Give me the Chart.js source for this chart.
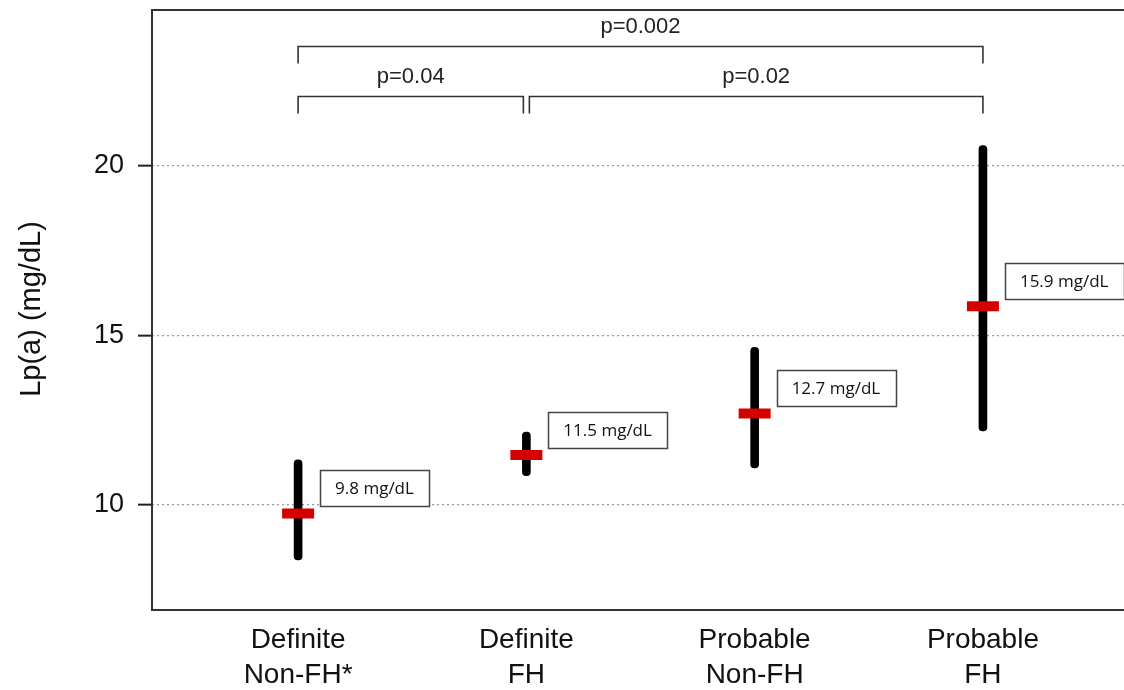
<!DOCTYPE html>
<html><head><meta charset="utf-8">
<script src="https://cdn.jsdelivr.net/npm/chart.js@4"></script>
<style>html,body{margin:0;padding:0;background:#fff;}#wrap{width:1124px;height:690px;}</style>
</head><body><div id="wrap"><canvas id="c" width="1124" height="690"></canvas></div>
<script>
// ---- data ----
const categories = [["Definite","Non-FH*"],["Definite","FH"],["Probable","Non-FH"],["Probable","FH"]];
const categoryPositions = [1, 2, 3, 4];
const meanValues = [9.75, 11.47, 12.70, 15.86];
const lowerValues = [8.38, 10.86, 11.09, 12.18];
const upperValues = [11.33, 12.15, 14.65, 20.60];
const meanLabels = ["9.8 mg/dL", "11.5 mg/dL", "12.7 mg/dL", "15.9 mg/dL"];
const yTickValues = [10, 15, 20];
const yTitle = "Lp(a) (mg/dL)";
const bracketFrom = [1, 1, 2];
const bracketTo = [4, 2, 4];
const bracketLevel = [23.55, 22.05, 22.05];
const bracketText = ["p=0.002", "p=0.04", "p=0.02"];

const AXIS_FONT = "'Liberation Sans', Arial, sans-serif";

const overlay = {
  id: 'overlay',
  afterDraw(chart) {
    const ctx = chart.ctx, a = chart.chartArea, xs = chart.scales.x, ys = chart.scales.y;
    ctx.save();
    // frame (left, top, bottom)
    ctx.strokeStyle = '#333'; ctx.lineWidth = 2;
    ctx.beginPath();
    ctx.moveTo(a.right + 2, a.top); ctx.lineTo(a.left, a.top); ctx.lineTo(a.left, a.bottom); ctx.lineTo(a.right + 2, a.bottom);
    ctx.stroke();
    // y title
    ctx.fillStyle = '#111';
    ctx.font = "29px " + AXIS_FONT;
    ctx.textAlign = 'center'; ctx.textBaseline = 'middle';
    ctx.translate(32, 309); ctx.rotate(-Math.PI / 2);
    ctx.fillText(yTitle, 0, 0);
    ctx.setTransform(1, 0, 0, 1, 0, 0);
    // brackets
    ctx.strokeStyle = '#333'; ctx.lineWidth = 1.6;
    ctx.font = "22px " + AXIS_FONT;
    for (let i = 0; i < bracketFrom.length; i++) {
      let xa = xs.getPixelForValue(bracketFrom[i]);
      let xb = xs.getPixelForValue(bracketTo[i]);
      for (let j = 0; j < bracketFrom.length; j++) {
        if (j === i || bracketLevel[j] !== bracketLevel[i]) continue;
        if (bracketTo[j] === bracketFrom[i]) xa += 3;
        if (bracketFrom[j] === bracketTo[i]) xb -= 3;
      }
      const yl = Math.round(ys.getPixelForValue(bracketLevel[i])) + 0.5;
      ctx.beginPath();
      ctx.moveTo(xa, yl + 17); ctx.lineTo(xa, yl); ctx.lineTo(xb, yl); ctx.lineTo(xb, yl + 17);
      ctx.stroke();
      ctx.fillStyle = '#222';
      ctx.textAlign = 'center'; ctx.textBaseline = 'middle';
      ctx.fillText(bracketText[i], (xa + xb) / 2, yl - 20);
    }
    // value label boxes
    ctx.font = "17px 'Open Sans', sans-serif";
    for (let i = 0; i < meanValues.length; i++) {
      const px = xs.getPixelForValue(categoryPositions[i]) + 22;
      const py = ys.getPixelForValue(meanValues[i]) - 25;
      const w = ctx.measureText(meanLabels[i]).width + 30, h = 36;
      ctx.fillStyle = '#fff';
      ctx.fillRect(px, py - h / 2, w, h);
      ctx.strokeStyle = '#444'; ctx.lineWidth = 1.5;
      ctx.strokeRect(Math.round(px) + 0.5, Math.round(py - h / 2) + 0.5, Math.round(w), h);
      ctx.fillStyle = '#111'; ctx.textAlign = 'left'; ctx.textBaseline = 'middle';
      ctx.fillText(meanLabels[i], px + 15, py + 1);
    }
    ctx.restore();
  }
};

new Chart(document.getElementById('c'), {
  type: 'bar',
  data: {
    datasets: [
      {
        type: 'line',
        order: 0,
        showLine: false,
        data: categoryPositions.map((x, i) => ({ x: x, y: meanValues[i] })),
        pointStyle: 'line',
        pointRadius: 16,
        pointBorderWidth: 10,
        pointBorderColor: '#d40000',
        pointBackgroundColor: '#d40000'
      },
      {
        type: 'bar',
        order: 1,
        data: categoryPositions.map((x, i) => ({ x: x, y: [lowerValues[i], upperValues[i]] })),
        backgroundColor: '#000',
        barThickness: 8,
        borderRadius: 4,
        borderSkipped: false
      }
    ]
  },
  options: {
    responsive: false,
    animation: false,
    layout: { autoPadding: false, padding: { top: 10, right: 0, left: 0, bottom: 0 } },
    plugins: { legend: { display: false }, tooltip: { enabled: false } },
    scales: {
      x: {
        type: 'linear',
        offset: false,
        min: 0.36, max: 4.618,
        afterBuildTicks: (s) => { s.ticks = categoryPositions.map(v => ({ value: v })); },
        afterFit: (s) => { s.height = 80; s.paddingLeft = 0; s.paddingRight = 0; },
        grid: { display: false, drawTicks: false, offset: false },
        border: { display: false },
        ticks: {
          padding: 13,
          color: '#111',
          maxRotation: 0,
          autoSkip: false,
          font: { family: AXIS_FONT, size: 28, lineHeight: 1.25 },
          callback: (v) => { const k = categoryPositions.indexOf(v); return k >= 0 ? categories[k] : ''; }
        }
      },
      y: {
        type: 'linear',
        min: 6.9, max: 24.6,
        afterBuildTicks: (s) => { s.ticks = yTickValues.map(v => ({ value: v })); },
        afterFit: (s) => { s.width = 152; s.paddingTop = 0; s.paddingBottom = 0; },
        grid: { color: '#9a9a9a', lineWidth: 1.3, tickLength: 14, tickColor: '#222', tickWidth: 2 },
        border: { display: false, dash: [2, 3] },
        ticks: {
          padding: 14,
          color: '#111',
          font: { family: AXIS_FONT, size: 27 }
        }
      }
    }
  },
  plugins: [overlay]
});
</script>
</body></html>
